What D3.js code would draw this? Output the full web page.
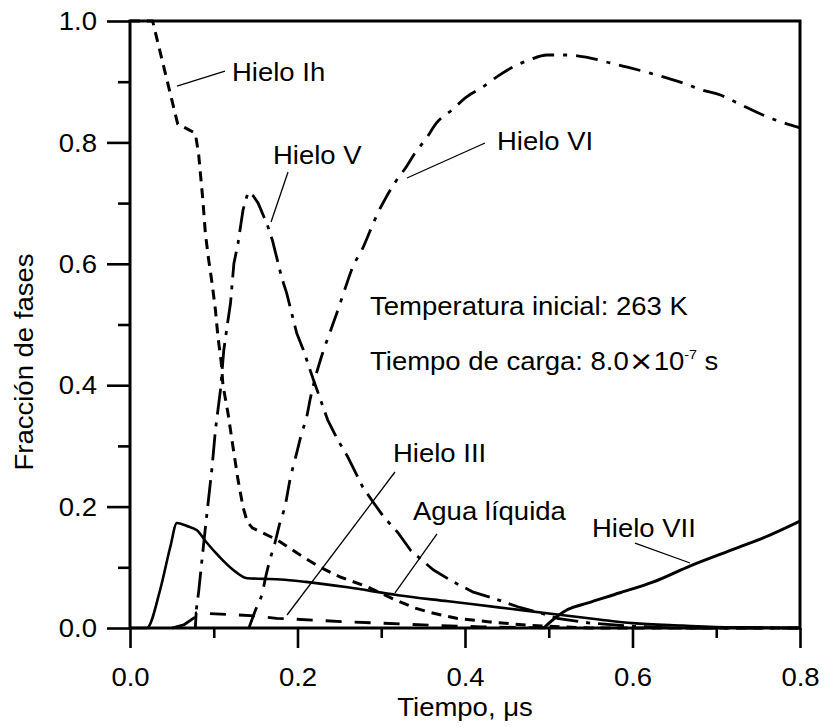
<!DOCTYPE html>
<html>
<head>
<meta charset="utf-8">
<script src="https://cdn.jsdelivr.net/npm/d3@7"></script>
<style>
  html, body { margin: 0; padding: 0; background: #fff; }
  svg { display: block; }
  text { font-family: "Liberation Sans", Arial, Helvetica, sans-serif; fill: #000; }
</style>
</head>
<body>
<svg id="chart" width="825" height="727"></svg>
<script>
// Phase fractions vs. time, pairs of [time (µs), fraction]
const hieloIh = [[0,1],[0.027,1],[0.057,0.83],[0.066,0.824],[0.078,0.815],[0.082,0.78],[0.087,0.705],
  [0.09,0.65],[0.094,0.606],[0.098,0.568],[0.102,0.524],[0.105,0.48],[0.109,0.437],[0.111,0.40],
  [0.117,0.354],[0.123,0.298],[0.129,0.244],[0.135,0.199],[0.14,0.175],[0.146,0.165],[0.176,0.145],
  [0.2,0.123],[0.227,0.1],[0.251,0.084],[0.283,0.068],[0.314,0.048],[0.34,0.033],[0.36,0.025],
  [0.39,0.016],[0.43,0.01],[0.48,0.004],[0.55,0],[0.8,0]];
const hieloV = [[0.05,0],[0.064,0.005],[0.078,0.018],[0.082,0.06],[0.085,0.1],[0.09,0.165],[0.098,0.265],
  [0.102,0.326],[0.108,0.392],[0.112,0.458],[0.117,0.507],[0.12,0.535],[0.124,0.6],[0.129,0.634],
  [0.135,0.689],[0.141,0.718],[0.147,0.712],[0.153,0.70],[0.164,0.664],[0.17,0.639],[0.181,0.578],
  [0.187,0.552],[0.193,0.519],[0.199,0.486],[0.207,0.458],[0.219,0.409],[0.236,0.343],[0.248,0.31],
  [0.26,0.282],[0.278,0.232],[0.29,0.208],[0.303,0.183],[0.32,0.157],[0.335,0.128],[0.362,0.096],
  [0.386,0.076],[0.41,0.059],[0.434,0.049],[0.463,0.035],[0.49,0.025],[0.51,0.016],[0.55,0.008],
  [0.6,0.003],[0.65,0],[0.8,0]];
const hieloVI = [[0.142,0],[0.15,0.03],[0.158,0.058],[0.162,0.084],[0.167,0.112],[0.173,0.14],
  [0.179,0.173],[0.185,0.2],[0.191,0.244],[0.199,0.288],[0.205,0.321],[0.211,0.348],[0.215,0.376],
  [0.23,0.453],[0.239,0.488],[0.247,0.519],[0.259,0.568],[0.266,0.595],[0.277,0.623],[0.286,0.652],
  [0.296,0.684],[0.304,0.705],[0.316,0.733],[0.33,0.76],[0.34,0.782],[0.354,0.807],[0.366,0.832],
  [0.384,0.853],[0.402,0.875],[0.421,0.891],[0.438,0.908],[0.457,0.924],[0.477,0.936],[0.498,0.944],
  [0.522,0.944],[0.55,0.939],[0.573,0.931],[0.594,0.924],[0.621,0.914],[0.66,0.898],[0.684,0.886],
  [0.705,0.878],[0.725,0.865],[0.761,0.842],[0.8,0.824]];
const hieloIII = [[0.078,0],[0.079,0.025],[0.15,0.02],[0.175,0.016],[0.22,0.013],[0.26,0.01],
  [0.3,0.008],[0.35,0.005],[0.42,0.002],[0.5,0]];
const aguaLiquida = [[0,0],[0.02,0],[0.036,0.063],[0.048,0.133],[0.056,0.173],[0.068,0.168],[0.08,0.161],
  [0.092,0.14],[0.107,0.117],[0.123,0.096],[0.14,0.082],[0.16,0.081],[0.18,0.08],[0.21,0.076],
  [0.26,0.067],[0.32,0.054],[0.38,0.044],[0.44,0.034],[0.5,0.024],[0.56,0.014],[0.6,0.008],
  [0.66,0.004],[0.72,0.001],[0.8,0]];
const hieloVII = [[0.494,0],[0.502,0.01],[0.522,0.03],[0.546,0.041],[0.585,0.058],[0.625,0.076],
  [0.665,0.1],[0.725,0.132],[0.764,0.153],[0.8,0.176]];

const xMajor = [0, 0.2, 0.4, 0.6, 0.8];
const xMinor = [0.1, 0.3, 0.5, 0.7];
const yMajor = [0, 0.2, 0.4, 0.6, 0.8, 1.0];
const yMinor = [0.1, 0.3, 0.5, 0.7, 0.9];

const xTitle = "Tiempo, \u03bcs";
const yTitle = "Fracción de fases";

// Series styling
const series = [
  { data: hieloIh,     dash: "10,7",       width: 3.0, curve: d3.curveLinear },
  { data: hieloV,      dash: "26,8,4,8",   width: 2.8, curve: d3.curveLinear },
  { data: hieloVI,     dash: "22,9,4,9",   width: 2.8, curve: d3.curveMonotoneX },
  { data: hieloIII,    dash: "16,13",      width: 2.8, curve: d3.curveLinear },
  { data: aguaLiquida, dash: null,         width: 2.6, curve: d3.curveMonotoneX },
  { data: hieloVII,    dash: null,         width: 3.0, curve: d3.curveMonotoneX }
];

// Curve labels with leader lines, in data units
const labels = [
  { text: "Hielo Ih",     at: [0.1218, 0.9012], from: [0.1134, 0.9176], to: [0.0561, 0.8929] },
  { text: "Hielo V",      at: [0.1707, 0.7644], from: [0.1887, 0.7512], to: [0.1684, 0.6689] },
  { text: "Hielo VI",     at: [0.4382, 0.7875], from: [0.4239, 0.7990], to: [0.3307, 0.7414] },
  { text: "Hielo III",    at: [0.3140, 0.2735], from: [0.3164, 0.2570], to: [0.1875, 0.0214] },
  { text: "Agua líquida", at: [0.3379, 0.1779], from: [0.3666, 0.1549], to: [0.3164, 0.0577] },
  { text: "Hielo VII",    at: [0.5516, 0.1499], from: [0.6030, 0.1400], to: [0.6687, 0.1071] }
];

const FS = 25;          // font size
const SX = 1.1;         // horizontal text stretch

const margin = { left: 130, right: 25, top: 21, bottom: 99 };
const W = 825, H = 727;
const x = d3.scaleLinear().domain([0, 0.8]).range([margin.left, W - margin.right]);
const y = d3.scaleLinear().domain([0, 1]).range([H - margin.bottom, margin.top]);

const svg = d3.select("#chart");

function stretchedText(g, px, py, str) {
  return g.append("text")
    .attr("transform", `translate(${px},${py}) scale(${SX},1)`)
    .attr("font-size", FS)
    .text(str);
}

// Clip
svg.append("defs").append("clipPath").attr("id", "plot")
  .append("rect")
  .attr("x", x(0)).attr("y", y(1) - 2)
  .attr("width", x(0.8) - x(0)).attr("height", y(0) - y(1) + 4);

// Axes: ticks point outward
const yAxisMajor = svg.append("g").attr("transform", `translate(${x(0)},0)`)
  .call(d3.axisLeft(y).tickValues(yMajor).tickSize(23).tickPadding(10).tickFormat(d3.format(".1f")));
const yAxisMinor = svg.append("g").attr("transform", `translate(${x(0)},0)`)
  .call(d3.axisLeft(y).tickValues(yMinor).tickSize(12).tickFormat(""));
const xAxisMajor = svg.append("g").attr("transform", `translate(0,${y(0)})`)
  .call(d3.axisBottom(x).tickValues(xMajor).tickSize(20).tickPadding(20).tickFormat(d3.format(".1f")));
const xAxisMinor = svg.append("g").attr("transform", `translate(0,${y(0)})`)
  .call(d3.axisBottom(x).tickValues(xMinor).tickSize(10).tickFormat(""));

[yAxisMajor, yAxisMinor, xAxisMajor, xAxisMinor].forEach(a => {
  a.select(".domain").remove();
  a.selectAll(".tick line").attr("stroke", "#000").attr("stroke-width", 2.6);
  a.selectAll("text").attr("font-size", FS).attr("font-family", null).attr("fill", "#000");
});
yAxisMajor.selectAll(".tick text")
  .attr("x", -33 / SX).attr("dy", "0.35em")
  .attr("transform", `scale(${SX},1)`);
xAxisMajor.selectAll(".tick text")
  .attr("dy", "0.71em")
  .attr("transform", `scale(${SX},1)`);

// Frame
svg.append("rect")
  .attr("x", x(0)).attr("y", y(1))
  .attr("width", x(0.8) - x(0)).attr("height", y(0) - y(1))
  .attr("fill", "none").attr("stroke", "#000").attr("stroke-width", 3);

// Curves
const line = d3.line().x(d => x(d[0])).y(d => y(d[1]));
const curves = svg.append("g").attr("clip-path", "url(#plot)");
series.forEach(s => {
  curves.append("path")
    .datum(s.data)
    .attr("d", line.curve(s.curve))
    .attr("fill", "none")
    .attr("stroke", "#000")
    .attr("stroke-width", s.width)
    .attr("stroke-linejoin", "round")
    .attr("stroke-dasharray", s.dash);
});

// Labels and leaders
const ann = svg.append("g");
labels.forEach(l => {
  ann.append("line")
    .attr("x1", x(l.from[0])).attr("y1", y(l.from[1]))
    .attr("x2", x(l.to[0])).attr("y2", y(l.to[1]))
    .attr("stroke", "#000").attr("stroke-width", 1.3);
  stretchedText(ann, x(l.at[0]), y(l.at[1]), l.text);
});

// Run conditions
stretchedText(ann, x(0.2866), y(0.5157), "Temperatura inicial: 263 K");
const cond = stretchedText(ann, x(0.2866), y(0.425), "Tiempo de carga: 8.0");
cond.append("tspan").attr("font-family", "DejaVu Sans").attr("font-size", 27).text("\u00d7");
cond.append("tspan").text("10");
cond.append("tspan").attr("font-size", 13).attr("dy", -11).text("-7");
cond.append("tspan").attr("dy", 11).text(" s");

// Axis titles
stretchedText(svg, x(0.4) , 716, xTitle).attr("text-anchor", "middle");
svg.append("text")
  .attr("transform", `translate(33,362) rotate(-90) scale(${SX},1)`)
  .attr("font-size", FS).attr("text-anchor", "middle")
  .text(yTitle);
</script>
</body>
</html>
